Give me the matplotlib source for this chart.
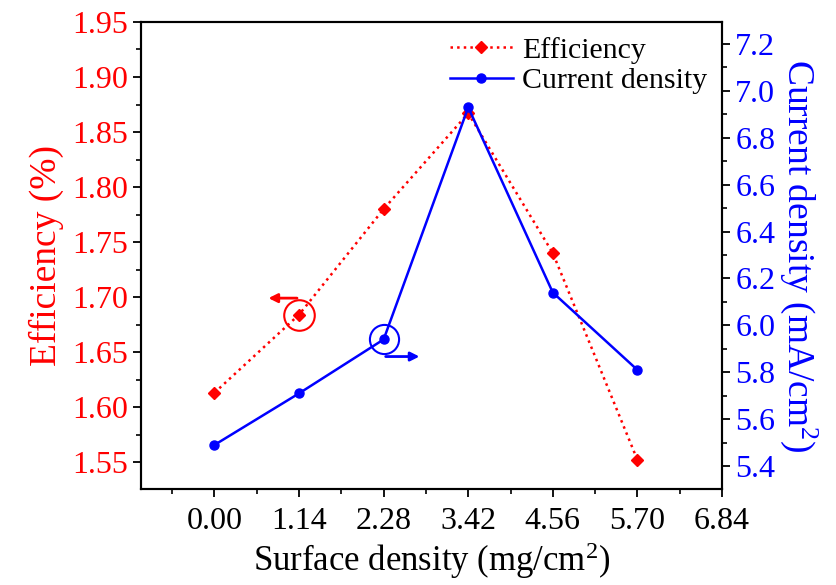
import matplotlib
matplotlib.use("Agg")
import matplotlib.pyplot as plt
from matplotlib.ticker import MultipleLocator, FormatStrFormatter

# Data
surface_density = [0.00, 1.14, 2.28, 3.42, 4.56, 5.70]
efficiency = [1.613, 1.684, 1.780, 1.867, 1.740, 1.552]
current_density = [5.49, 5.71, 5.94, 6.93, 6.14, 5.81]
x_ticks = [0.00, 1.14, 2.28, 3.42, 4.56, 5.70, 6.84]

plt.rcParams['font.family'] = ['Liberation Serif', 'DejaVu Serif']
plt.rcParams['mathtext.fontset'] = 'custom'
plt.rcParams['mathtext.rm'] = 'Liberation Serif'
plt.rcParams['mathtext.it'] = 'Liberation Serif:italic'

fig = plt.figure(figsize=(8.36, 5.85), dpi=100)
ax = fig.add_axes([0.1687, 0.1641, 0.8636 - 0.1687, 0.9624 - 0.1641])
ax2 = ax.twinx()

# Efficiency (left axis)
l1, = ax.plot(surface_density, efficiency, color="red", linestyle=":", linewidth=1.8,
              marker="D", markersize=6, label="Efficiency")
# Current density (right axis)
l2, = ax2.plot(surface_density, current_density, color="blue", linestyle="-", linewidth=1.8,
               marker="o", markersize=6.5, label="Current density")

ax.set_xlim(-0.99, 6.84)
ax.set_ylim(1.5255, 1.95)
ax2.set_ylim(5.302, 7.294)

ax.set_xticks(x_ticks)
ax.xaxis.set_major_formatter(FormatStrFormatter("%.2f"))
ax.xaxis.set_minor_locator(MultipleLocator(0.57))
ax.yaxis.set_major_locator(MultipleLocator(0.05))
ax.yaxis.set_minor_locator(MultipleLocator(0.025))
ax.yaxis.set_major_formatter(FormatStrFormatter("%.2f"))
ax2.yaxis.set_major_locator(MultipleLocator(0.2))
ax2.yaxis.set_minor_locator(MultipleLocator(0.1))
ax2.yaxis.set_major_formatter(FormatStrFormatter("%.1f"))

for a in (ax, ax2):
    for s in a.spines.values():
        s.set_linewidth(1.5)
ax.tick_params(axis="both", which="major", direction="out", length=6, width=1.3, labelsize=23)
ax.tick_params(axis="both", which="minor", direction="out", length=3.5, width=1.2)
ax.tick_params(axis="x", which="major", pad=7)
ax.tick_params(axis="y", colors="black", labelcolor="red")
ax2.tick_params(axis="y", which="major", direction="out", length=6, width=1.3, labelsize=23,
                labelcolor="blue")
ax2.tick_params(axis="y", which="minor", direction="out", length=3.5, width=1.2)

ax.set_xlabel(r"Surface density (mg/cm$^2$)", fontsize=25, labelpad=3)
ax.set_ylabel("Efficiency (%)", fontsize=27, color="red", labelpad=6)
ax2.set_ylabel(r"Current density (mA/cm$^2$)", fontsize=27, color="blue",
               rotation=270, labelpad=32)

# Circles and arrows pointing to the corresponding axes
ex, ey = surface_density[1], efficiency[1]
ax.plot(ex, ey, "o", ms=22, mfc="none", mec="red", mew=1.5)
ax.annotate("", xy=(ex - 0.45, ey + 0.015), xytext=(ex + 0.01, ey + 0.015),
            arrowprops=dict(arrowstyle="-|>", color="red", lw=2, mutation_scale=13))
cx, cy = surface_density[2], current_density[2]
ax2.plot(cx, cy, "o", ms=21, mfc="none", mec="blue", mew=1.5)
ax2.annotate("", xy=(cx + 0.52, cy - 0.073), xytext=(cx - 0.01, cy - 0.073),
             arrowprops=dict(arrowstyle="-|>", color="blue", lw=2, mutation_scale=13))

ax2.legend([l1, l2], ["Efficiency", "Current density"], loc="upper right", frameon=False,
           fontsize=21.5, handlelength=2.1, handletextpad=0.3, borderaxespad=0.1,
           labelspacing=0.12)

fig.savefig("out.png", dpi=100)
